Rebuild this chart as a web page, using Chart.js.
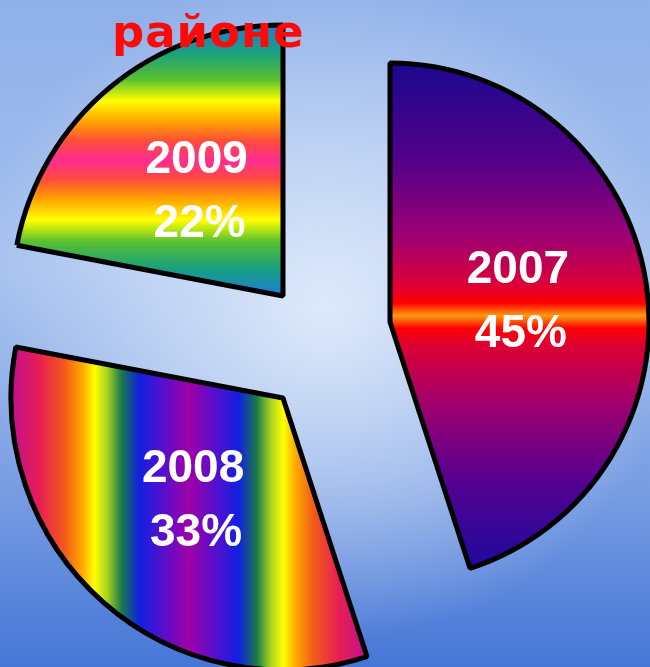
<!DOCTYPE html>
<html>
<head>
<meta charset="utf-8">
<script src="https://cdn.jsdelivr.net/npm/chart.js@4.4.0/dist/chart.umd.min.js"></script>
<style>
    html, body {
        margin: 0;
        padding: 0;
    }
    body {
        width: 650px;
        height: 667px;
        overflow: hidden;
        position: relative;
        background:
            radial-gradient(ellipse 55% 50% at 50% 46%, rgba(222, 233, 250, 1) 0%, rgba(222, 233, 250, 0) 100%),
            linear-gradient(to bottom, #8fb0e9 0%, #a4c0ee 40%, #7a9fe3 72%, #4676d6 100%);
    }
    #wrap {
        position: absolute;
        left: 0;
        top: 0;
        width: 650px;
        height: 667px;
    }
    #title {
        position: absolute;
        left: 112px;
        top: 5px;
        font-family: "DejaVu Sans", sans-serif;
        font-weight: bold;
        font-size: 45px;
        color: #ff0a0a;
        letter-spacing: 1px;
        z-index: 2;
    }
</style>
</head>
<body>
<div id="wrap"><canvas id="pie" width="650" height="667"></canvas></div>
<div id="title">районе</div>
<script>
const years = ['2007', '2008', '2009'];
const shares = [45, 33, 22];

// how far each slice is pulled out (x, y) and its radius
const explode = [[64, -20], [-43, 56], [-43, -46]];
const radii = [259, 272, 271];

// gradient stops for each slice
const fills = [
    { dir: 'v', stops: [[0, '#1c0890'], [0.2, '#560088'], [0.34, '#9c0074'], [0.44, '#dc0038'], [0.475, '#ff0000'], [0.5, '#ff9c12'], [0.525, '#ff0000'], [0.56, '#dc0034'], [0.67, '#a2006c'], [0.82, '#580090'], [1, '#1e0a9c']] },
    { dir: 'h', stops: [[0, '#c0108e'], [0.08, '#e81e54'], [0.15, '#f25a1a'], [0.2, '#ffa800'], [0.235, '#ffff00'], [0.27, '#a8d420'], [0.31, '#1a7a48'], [0.36, '#1020e0'], [0.42, '#5010d0'], [0.5, '#a000a8'], [0.58, '#5010d0'], [0.64, '#1020e0'], [0.69, '#1a7a48'], [0.73, '#a8d420'], [0.765, '#ffff00'], [0.8, '#ffa800'], [0.85, '#f25a1a'], [0.92, '#e81e54'], [1, '#c0108e']] },
    { dir: 'v', stops: [[0, '#1c7ed8'], [0.1, '#18a080'], [0.2, '#58c030'], [0.28, '#ffff00'], [0.36, '#ffa000'], [0.43, '#ff4c3c'], [0.5, '#ff2c92'], [0.57, '#ff4c3c'], [0.64, '#ffa000'], [0.72, '#ffff00'], [0.8, '#58c030'], [0.9, '#18a080'], [1, '#1c7ed8']] }
];

function arcBox(arc) {
    const pts = [[arc.x, arc.y]];
    for (let k = 0; k <= 40; k++) {
        const a = arc.startAngle + (arc.endAngle - arc.startAngle) * k / 40;
        pts.push([arc.x + Math.cos(a) * arc.outerRadius, arc.y + Math.sin(a) * arc.outerRadius]);
    }
    const xs = pts.map(p => p[0]);
    const ys = pts.map(p => p[1]);
    return { x0: Math.min(...xs), x1: Math.max(...xs), y0: Math.min(...ys), y1: Math.max(...ys) };
}

const explodePlugin = {
    id: 'explode',
    afterDatasetUpdate(chart, args) {
        const ctx = chart.ctx;
        args.meta.data.forEach((arc, i) => {
            arc.x += explode[i][0];
            arc.y += explode[i][1];
            arc.outerRadius = radii[i];

            const b = arcBox(arc);
            const f = fills[i];
            const g = f.dir === 'v'
                ? ctx.createLinearGradient(0, b.y0, 0, b.y1)
                : ctx.createLinearGradient(b.x0, 0, b.x1, 0);
            f.stops.forEach(s => g.addColorStop(s[0], s[1]));
            arc.options = Object.assign({}, arc.options, { backgroundColor: g });
        });
    }
};

const labelPlugin = {
    id: 'sliceLabels',
    afterDatasetsDraw(chart) {
        const ctx = chart.ctx;
        const meta = chart.getDatasetMeta(0);
        const total = shares.reduce((a, b) => a + b, 0);
        ctx.save();
        ctx.fillStyle = '#ffffff';
        ctx.font = 'bold 46px "Liberation Sans", Arial, sans-serif';
        ctx.textAlign = 'center';
        ctx.textBaseline = 'middle';
        meta.data.forEach((arc, i) => {
            const mid = (arc.startAngle + arc.endAngle) / 2;
            const r = arc.outerRadius / 2;
            const cx = arc.x + Math.cos(mid) * r;
            const cy = arc.y + Math.sin(mid) * r;
            ctx.fillText(years[i], cx, cy - 31);
            ctx.fillText(Math.round(shares[i] / total * 100) + '%', cx + 3, cy + 33);
        });
        ctx.restore();
    }
};

new Chart(document.getElementById('pie'), {
    type: 'pie',
    data: {
        labels: years,
        datasets: [{
            data: shares,
            backgroundColor: ['#800080', '#1020e0', '#ffa000'],
            borderColor: '#000000',
            borderWidth: 5
        }]
    },
    options: {
        responsive: false,
        animation: false,
        events: [],
        radius: 270,
        layout: { padding: { left: 2, top: 17 } },
        plugins: {
            legend: { display: false },
            tooltip: { enabled: false },
            title: { display: false }
        }
    },
    plugins: [explodePlugin, labelPlugin]
});
</script>
</body>
</html>
